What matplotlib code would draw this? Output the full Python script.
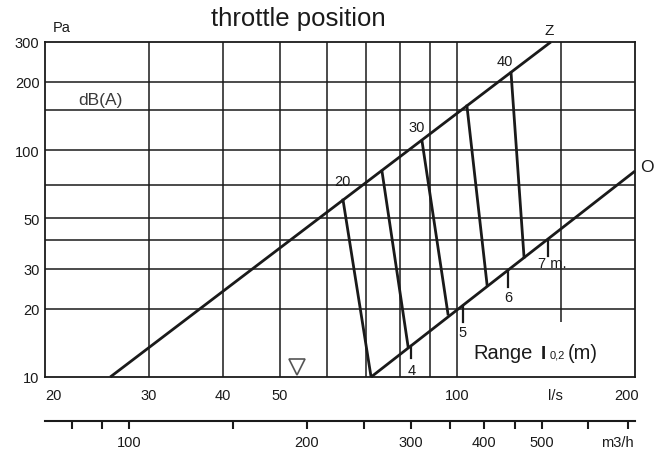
import matplotlib
matplotlib.use('Agg')
import matplotlib.pyplot as plt
from matplotlib.ticker import NullLocator
from matplotlib.transforms import ScaledTranslation

plt.rcParams['font.family'] = ['Liberation Sans', 'DejaVu Sans']

# ---------------- data ----------------
closed_x = [25.8, 144.0]          # Z line (throttle closed)
closed_y = [10.0, 300.0]
open_x = [71.4, 200.0]            # O line (throttle open)
open_y = [10.0, 80.9]
throttle_labels = ['20', '', '30', '', '40']
throttle_top_x = [64.0, 74.5, 87.1, 103.8, 123.3]
throttle_top_y = [60.3, 80.9, 109.8, 156.6, 218.9]
throttle_bot_x = [71.4, 82.5, 96.4, 112.3, 129.7]
throttle_bot_y = [10.0, 13.6, 18.95, 25.4, 33.8]
range_labels = ['4', '5', '6', '7 m.']
range_x = [83.4, 102.2, 121.8, 142.4]
range_top = [13.7, 20.6, 29.6, 40.2]
range_bot = [12.1, 17.5, 24.9, 34.2]
y_ticks = [10, 20, 30, 50, 100, 200, 300]
x_ticks = [20, 30, 40, 50, 100, 150, 200]
x_ticklabels = ['20', '30', '40', '50', '100', 'l/s', '200']
m3h_ticks = [80, 90, 100, 150, 200, 250, 300, 350, 400, 450, 500, 600, 700]
m3h_labels = ['', '', '100', '', '200', '', '300', '', '400', '', '500', '', '']
grid_x = [30, 40, 50, 60, 70, 80, 90, 100]
grid_x_partial = [150]
grid_x_partial_low = [17.5]
grid_y = [20, 30, 40, 50, 70, 100, 150, 200]
marker_x = [53.5]
marker_y = [11.07]

INK = '#1a1a1a'
W, H = 662, 452

fig = plt.figure(figsize=(W / 100, H / 100), dpi=100)
ax = fig.add_axes([45 / W, (H - 378) / H, 590 / W, 335 / H])
ax.set_xscale('log')
ax.set_yscale('log')
ax.set_xlim(20, 200)
ax.set_ylim(10, 300)

def px(x, y):
    return x / W, 1 - y / H

# grid
ax.vlines(grid_x, 10, 300, color=INK, lw=1.1, zorder=1)
ax.vlines(grid_x_partial, grid_x_partial_low, 300, color=INK, lw=1.1, zorder=1)
ax.hlines(grid_y, 20, 200, color=INK, lw=1.1, zorder=1)
for s in ax.spines.values():
    s.set_linewidth(1.3)
    s.set_color(INK)

# main lines
ax.plot(closed_x, closed_y, color=INK, lw=2.0, solid_capstyle='butt', zorder=3, clip_on=False)
ax.plot(open_x, open_y, color=INK, lw=2.0, solid_capstyle='butt', zorder=3, clip_on=False)
ax.annotate('Z', (closed_x[-1], closed_y[-1]), xytext=(-2, 12), textcoords='offset pixels',
            ha='center', va='center', fontsize=11, color=INK)
ax.annotate('O', (open_x[-1], open_y[-1]), xytext=(12, 5), textcoords='offset pixels',
            ha='center', va='center', fontsize=12.5, color=INK)

label_offsets = [(-1, 19), (0, 0), (-5, 14), (0, 0), (-6, 12)]
for tx, ty, bx, by, lab, off in zip(throttle_top_x, throttle_top_y, throttle_bot_x,
                                    throttle_bot_y, throttle_labels, label_offsets):
    ax.plot([tx, bx], [ty, by], color=INK, lw=2.0, zorder=3)
    if lab:
        ax.annotate(lab, (tx, ty), xytext=off, textcoords='offset pixels',
                    ha='center', va='center', fontsize=10.5, color=INK)

range_offsets = [(1, -12, 'center'), (0, -10, 'center'), (0, -10, 'center'), (-10, -7, 'left')]
for x, yt, yb, lab, (dx, dy, ha) in zip(range_x, range_top, range_bot, range_labels, range_offsets):
    ax.plot([x, x], [yt, yb], color=INK, lw=1.6, zorder=3)
    ax.annotate(lab, (x, yb), xytext=(dx, dy), textcoords='offset pixels',
                ha=ha, va='center', fontsize=10.5, color=INK)

ax.plot(marker_x, marker_y, marker='v', ms=11.5, mfc='none', mec='#555555', mew=1.2,
        ls='none', zorder=4)

# ticks
ax.set_xticks(x_ticks, labels=x_ticklabels)
ax.set_yticks(y_ticks, labels=[str(v) for v in y_ticks])
ax.xaxis.set_minor_locator(NullLocator())
ax.yaxis.set_minor_locator(NullLocator())
ax.tick_params(axis='x', length=0, pad=8, labelsize=10.5, labelcolor=INK)
ax.tick_params(axis='y', length=0, pad=4, labelsize=10.5, labelcolor=INK)
xl = ax.get_xticklabels()
xl[0].set_horizontalalignment('left')
xl[5].set_transform(xl[5].get_transform() + ScaledTranslation(-0.06, 0, fig.dpi_scale_trans))
xl[6].set_transform(xl[6].get_transform() + ScaledTranslation(-0.08, 0, fig.dpi_scale_trans))

# secondary axis (m3/h)
sec = ax.secondary_xaxis(-0.131, functions=(lambda q: q * 3.6, lambda q: q / 3.6))
sec.set_xticks(m3h_ticks, labels=m3h_labels)
sec.xaxis.set_minor_locator(NullLocator())
sec.tick_params(axis='x', length=5.5, width=1.5, direction='out', pad=5, labelsize=10.5,
                color=INK, labelcolor=INK)
sec.spines['bottom'].set_linewidth(1.5)
sec.spines['bottom'].set_color(INK)

# texts
fig.text(*px(298, 19), 'throttle position', ha='center', va='center', fontsize=18.5, color=INK)
fig.text(*px(62, 28), 'Pa', ha='center', va='center', fontsize=10.5, color=INK)
fig.text(*px(100, 100), 'dB(A)', ha='center', va='center', fontsize=12.5, color='#3a3a3a')
fig.text(*px(617, 443), 'm3/h', ha='center', va='center', fontsize=10.5, color=INK)
fig.text(*px(473, 359), 'Range', ha='left', va='baseline', fontsize=14.5, color=INK)
fig.text(*px(541, 359), 'I', ha='left', va='baseline', fontsize=13.5, fontweight='bold', color=INK)
fig.text(*px(550, 359), '0,2', ha='left', va='baseline', fontsize=8, color=INK)
fig.text(*px(568, 359), '(m)', ha='left', va='baseline', fontsize=14.5, color=INK)

fig.savefig('out.png', dpi=100)
